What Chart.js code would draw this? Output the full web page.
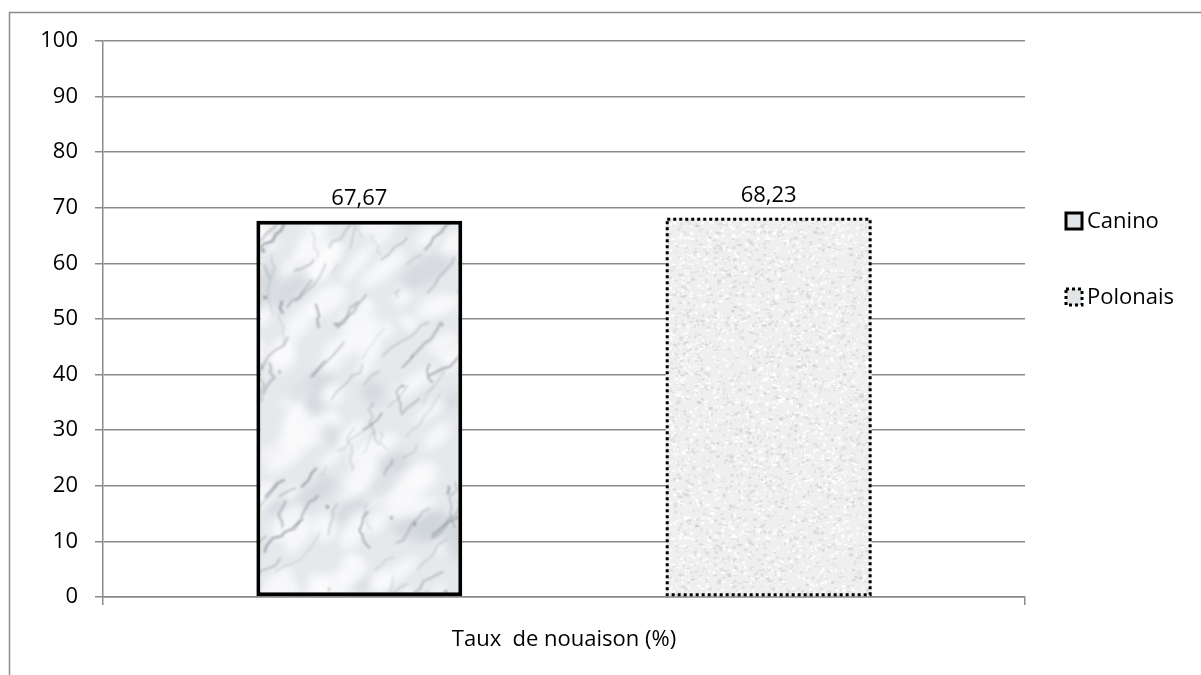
<!DOCTYPE html>
<html>
<head>
<meta charset="utf-8">
<script src="https://cdn.jsdelivr.net/npm/chart.js@4/dist/chart.umd.min.js"></script>
<style>
  body { margin: 0; background: #fff; }
  canvas { display: block; }
</style>
</head>
<body>
<canvas id="c" width="1201" height="675"></canvas>
<script>
// données
const categories = ['Taux  de nouaison (%)'];
const seriesNames = ['Canino', 'Polonais'];
const canino = [67.67];
const polonais = [68.23];
const yTicks = [0, 10, 20, 30, 40, 50, 60, 70, 80, 90, 100];

const FONT = '"Open Sans", "Liberation Sans", sans-serif';
const GRID = '#8a8a8a';

// petit générateur déterministe pour les textures
function rng(seed) {
    return function () {
        seed |= 0; seed = seed + 0x6D2B79F5 | 0;
        let t = Math.imul(seed ^ seed >>> 15, 1 | seed);
        t = t + Math.imul(t ^ t >>> 7, 61 | t) ^ t;
        return ((t ^ t >>> 14) >>> 0) / 4294967296;
    };
}

// texture marbre (Canino) - assez grande pour couvrir la barre sans raccord
function marbleCanvas() {
    const w = 600, h = 660;
    const cv = document.createElement('canvas');
    cv.width = w; cv.height = h;
    const g = cv.getContext('2d');
    const r = rng(7);
    g.fillStyle = '#e6e9ec';
    g.fillRect(0, 0, w, h);
    // nuages clairs
    g.filter = 'blur(4px)';
    for (let i = 0; i < 420; i++) {
        g.fillStyle = r() < 0.7 ? 'rgba(252,252,253,0.75)' : 'rgba(200,205,212,0.5)';
        g.beginPath();
        g.ellipse(r() * w, r() * h, 6 + r() * 22, 4 + r() * 10, -0.8 + (r() - 0.5) * 0.8, 0, Math.PI * 2);
        g.fill();
    }
    // veines
    g.filter = 'blur(1px)';
    for (let i = 0; i < 420; i++) {
        let x = r() * w, y = r() * h;
        g.strokeStyle = 'rgba(125,130,140,' + (0.2 + r() * 0.45) + ')';
        g.lineWidth = 0.8 + r() * 1.8;
        g.beginPath();
        g.moveTo(x, y);
        const steep = r() < 0.7;
        const n = 2 + Math.floor(r() * 6);
        for (let k = 0; k < n; k++) {
            if (steep) {
                x += 2 + r() * 7;
                y -= 2 + r() * 7;
            } else {
                x += (r() - 0.5) * 10;
                y += 3 + r() * 6;
            }
            g.lineTo(x, y);
        }
        g.stroke();
    }
    // points sombres
    for (let i = 0; i < 60; i++) {
        g.fillStyle = 'rgba(100,105,115,0.5)';
        g.fillRect(r() * w, r() * h, 2 + r() * 2, 2 + r() * 2);
    }
    g.filter = 'none';
    return cv;
}

// texture granit (Polonais)
function graniteCanvas() {
    const w = 300, h = 300;
    const cv = document.createElement('canvas');
    cv.width = w; cv.height = h;
    const g = cv.getContext('2d');
    const r = rng(21);
    g.fillStyle = '#efefef';
    g.fillRect(0, 0, w, h);
    g.filter = 'blur(0.7px)';
    for (let i = 0; i < 5000; i++) {
        const v = r();
        g.fillStyle = v < 0.45 ? 'rgba(212,212,212,0.55)' : (v < 0.92 ? 'rgba(255,255,255,0.8)' : 'rgba(190,190,190,0.45)');
        g.fillRect(r() * w, r() * h, 1 + r() * 3, 1 + r() * 2);
    }
    g.filter = 'none';
    return cv;
}

const canvas = document.getElementById('c');
const ctx = canvas.getContext('2d');
const marble = ctx.createPattern(marbleCanvas(), 'repeat');
const granite = ctx.createPattern(graniteCanvas(), 'repeat');

function fmt(v) {
    return v.toFixed(2).replace('.', ',');
}

// cadre extérieur
const framePlugin = {
    id: 'frame',
    beforeDraw(chart) {
        const c = chart.ctx;
        c.save();
        c.strokeStyle = '#8a8a8a';
        c.lineWidth = 1.5;
        c.beginPath();
        c.moveTo(9.5, 676);
        c.lineTo(9.5, 12.5);
        c.lineTo(1202, 12.5);
        c.stroke();
        c.restore();
    }
};

// bordure pointillée + étiquettes de valeurs
const barExtras = {
    id: 'barExtras',
    afterDatasetsDraw(chart) {
        const c = chart.ctx;
        chart.data.datasets.forEach((ds, di) => {
            const meta = chart.getDatasetMeta(di);
            meta.data.forEach((el, i) => {
                const left = el.x - el.width / 2;
                if (ds.dotted) {
                    c.save();
                    c.strokeStyle = '#000';
                    c.lineWidth = 3;
                    c.setLineDash([3, 3]);
                    c.strokeRect(left + 1.5, el.y + 1.5, el.width - 3, el.base - el.y - 3);
                    c.restore();
                }
                c.save();
                c.fillStyle = '#000';
                c.font = '22px ' + FONT;
                c.textAlign = 'center';
                c.textBaseline = 'bottom';
                c.fillText(fmt(ds.data[i]), el.x, el.y - 11);
                c.restore();
            });
        });
    }
};

// légende à droite
const legendPlugin = {
    id: 'sideLegend',
    afterDraw(chart) {
        const c = chart.ctx;
        const ys = [221, 297];
        chart.data.datasets.forEach((ds, di) => {
            const y = ys[di];
            c.save();
            c.fillStyle = '#e2e5e8';
            c.fillRect(1066, y - 8, 16, 16);
            c.strokeStyle = '#000';
            c.lineWidth = 3;
            if (ds.dotted) c.setLineDash([3, 3]);
            c.strokeRect(1066, y - 8, 16, 16);
            c.setLineDash([]);
            c.fillStyle = '#000';
            c.font = '22px ' + FONT;
            c.textAlign = 'left';
            c.textBaseline = 'middle';
            c.fillText(ds.label, 1087, y + 1);
            c.restore();
        });
    }
};

new Chart(ctx, {
    type: 'bar',
    data: {
        labels: categories,
        datasets: [
            {
                label: seriesNames[0],
                data: canino,
                backgroundColor: marble,
                borderColor: '#000',
                borderWidth: 4,
                borderSkipped: false
            },
            {
                label: seriesNames[1],
                data: polonais,
                backgroundColor: granite,
                borderWidth: 0,
                dotted: true
            }
        ]
    },
    options: {
        responsive: false,
        animation: false,
        devicePixelRatio: 1,
        categoryPercentage: 0.888,
        barPercentage: 0.503,
        layout: { padding: { top: 41, right: 176, bottom: 0, left: 0 } },
        plugins: {
            legend: { display: false },
            tooltip: { enabled: false }
        },
        scales: {
            x: {
                afterFit(s) { s.height = 78; },
                grid: {
                    offset: true,
                    drawOnChartArea: false,
                    drawTicks: true,
                    tickLength: 8,
                    color: GRID,
                    lineWidth: 1.5
                },
                border: { color: GRID, width: 1.5 },
                ticks: {
                    color: '#000',
                    padding: 22,
                    font: { family: FONT, size: 22 }
                }
            },
            y: {
                min: 0,
                max: 100,
                afterFit(s) { s.width = 103; },
                afterBuildTicks(s) { s.ticks = yTicks.map(v => ({ value: v })); },
                grid: {
                    color: GRID,
                    lineWidth: 1.5,
                    tickLength: 8
                },
                border: { color: GRID, width: 1.5 },
                ticks: {
                    color: '#000',
                    padding: 17,
                    font: { family: FONT, size: 22 }
                }
            }
        }
    },
    plugins: [framePlugin, barExtras, legendPlugin]
});
</script>
</body>
</html>
